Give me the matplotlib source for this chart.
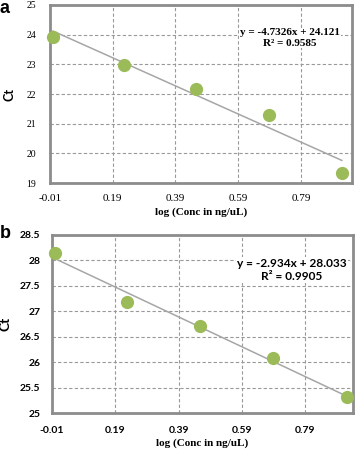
import numpy as np
import matplotlib
matplotlib.use("Agg")
import matplotlib.pyplot as plt

# panel a
x_a = [0.0, 0.226, 0.457, 0.689, 0.92]
ct_a = [23.91, 22.97, 22.17, 21.31, 19.33]
slope_a, icpt_a = -4.7326, 24.121
eq_a = "y = -4.7326x + 24.121\nR² = 0.9585"

# panel b
x_b = [0.0, 0.226, 0.457, 0.689, 0.92]
ct_b = [28.14, 27.19, 26.70, 26.09, 25.32]
slope_b, icpt_b = -2.934, 28.033
eq_b = "y = -2.934x + 28.033\nR² = 0.9905"

xticks = [-0.01, 0.19, 0.39, 0.59, 0.79]
xticklabels = ["-0.01", "0.19", "0.39", "0.59", "0.79"]
yticks_a = [19, 20, 21, 22, 23, 24, 25]
yticks_b = [25, 25.5, 26, 26.5, 27, 27.5, 28, 28.5]

green = "#9bbb59"
serif = "Liberation Serif"
sans = "Lato"

fig = plt.figure(figsize=(3.59, 4.49), dpi=100)
ax1 = fig.add_axes([0.139, 0.592, 0.842, 0.397])
ax2 = fig.add_axes([0.144, 0.080, 0.839, 0.397])


def style(ax, xmax, yticks, ylim):
    ax.set_xlim(-0.01, xmax)
    ax.set_ylim(*ylim)
    ax.set_xticks(xticks)
    ax.set_xticklabels(xticklabels)
    ax.set_yticks(yticks)
    ax.grid(True, linestyle=(0, (3, 2)), color="#999999", linewidth=0.8)
    ax.set_axisbelow(True)
    for s in ax.spines.values():
        s.set_color("#8c8c8c")
        s.set_linewidth(2)
    ax.tick_params(length=0)


def fit(ax, xs, ys, m, b):
    xl = np.array([min(xs), max(xs)])
    ax.plot(xl, m * xl + b, color="#a6a6a6", linewidth=1.1, zorder=2)
    ax.plot(xs, ys, "o", color=green, markersize=8.5, zorder=3, clip_on=False)


# --- a ---
style(ax1, 0.953, yticks_a, (19, 25))
fit(ax1, x_a, ct_a, slope_a, icpt_a)
ax1.tick_params(axis="x", pad=8)
ax1.tick_params(axis="y", pad=10)
for t in ax1.get_xticklabels():
    t.set_fontfamily(serif)
    t.set_fontsize(8)
for t in ax1.get_yticklabels():
    t.set_fontfamily(serif)
    t.set_fontsize(7)
ax1.set_xlabel("log (Conc in ng/uL)", fontfamily=serif, fontweight="bold", fontsize=8, labelpad=3)
ax1.set_ylabel("Ct", fontfamily=sans, fontweight="bold", fontsize=9, labelpad=8)
ax1.text(290 / 359, 1 - 38 / 449, eq_a, transform=fig.transFigure, ha="center", va="center",
         fontfamily=serif, fontweight="bold", fontsize=8, linespacing=1.2,
         bbox=dict(facecolor="white", edgecolor="none", pad=0.5))

# --- b ---
style(ax2, 0.94, yticks_b, (25, 28.5))
fit(ax2, x_b, ct_b, slope_b, icpt_b)
ax2.set_yticklabels(["25", "25.5", "26", "26.5", "27", "27.5", "28", "28.5"])
ax2.tick_params(axis="x", pad=9)
ax2.tick_params(axis="y", pad=8)
for t in ax2.get_xticklabels() + ax2.get_yticklabels():
    t.set_fontfamily(sans)
    t.set_fontweight("bold")
    t.set_fontsize(7.5)
ax2.set_xlabel("log (Conc in ng/uL)", fontfamily=serif, fontweight="bold", fontsize=8, labelpad=3)
ax2.set_ylabel("Ct", fontfamily=sans, fontweight="bold", fontsize=10, labelpad=6)
ax2.text(292 / 359, 1 - 270 / 449, eq_b, transform=fig.transFigure, ha="center", va="center",
         fontfamily=sans, fontweight="bold", fontsize=8.6, linespacing=1.3,
         bbox=dict(facecolor="white", edgecolor="none", pad=0.5))

fig.text(0.0, 1.0, "a", fontfamily="Liberation Sans", fontweight="bold", fontsize=13, ha="left", va="top")
fig.text(0.0, 1 - 225 / 449, "b", fontfamily="Liberation Sans", fontweight="bold", fontsize=13, ha="left", va="top")

fig.savefig("out.png", dpi=100)
